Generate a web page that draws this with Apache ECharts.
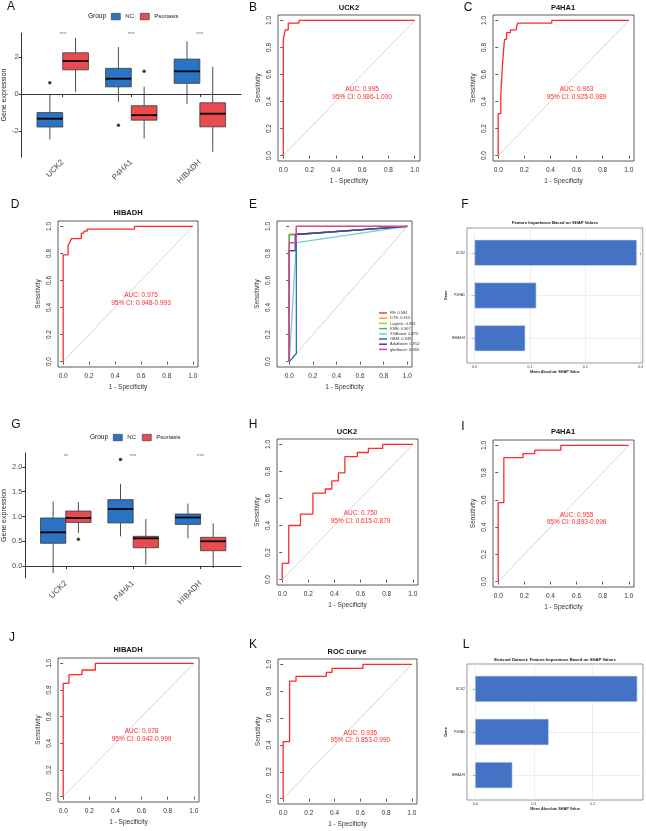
<!DOCTYPE html>
<html>
<head>
<meta charset="utf-8">
<script src="https://cdn.jsdelivr.net/npm/echarts@6/dist/echarts.min.js"></script>
<style>
  html, body { margin: 0; padding: 0; background: #fff; }
  #main { width: 646px; height: 831px; }
</style>
</head>
<body>
<div id="main"></div>
<script>
const genes = ['UCK2', 'P4HA1', 'HIBADH']

// box stats per gene: [min, Q1, median, Q3, max]
const trainNC = [[-2.45, -1.78, -1.33, -1.0, 0.0], [-0.42, 0.39, 0.83, 1.39, 2.54], [-0.54, 0.58, 1.23, 1.89, 2.85]]
const trainPso = [[0.12, 1.31, 1.78, 2.23, 3.03], [-2.39, -1.41, -1.14, -0.63, 0.40], [-3.12, -1.77, -1.06, -0.47, 1.48]]
const trainNCOut = [[0, 0.61], [1, -1.68]]   // [gene index, value]
const trainPsoOut = [[1, 1.24]]
const trainSig = ['***', '***', '***']
const trainTicks = [-2, 0, 2]

const validNC = [[-0.14, 0.46, 0.68, 0.97, 1.30], [0.60, 0.87, 1.15, 1.34, 1.66], [0.56, 0.84, 0.98, 1.05, 1.26]]
const validPso = [[0.67, 0.88, 0.97, 1.11, 1.29], [0.03, 0.37, 0.56, 0.60, 0.95], [-0.04, 0.31, 0.50, 0.58, 0.86]]
const validNCOut = [[1, 2.15]]
const validPsoOut = [[0, 0.54]]
const validSig = ['**', '***', '***']
const validTicks = [0, 0.5, 1, 1.5, 2]

// ROC curves, corner points
const rocTicks = [0, 0.2, 0.4, 0.6, 0.8, 1]
const uck2TrainFpr = [0, 0, 0.015, 0.015, 0.038, 0.038, 0.12, 0.12, 1]
const uck2TrainTpr = [0, 0.86, 0.86, 0.93, 0.93, 0.98, 0.98, 1, 1]
const p4ha1TrainFpr = [0, 0, 0.02, 0.02, 0.033, 0.033, 0.048, 0.048, 0.064, 0.064, 0.094, 0.094, 0.14, 0.14, 0.15, 0.15, 0.41, 0.41, 1]
const p4ha1TrainTpr = [0, 0.31, 0.31, 0.45, 0.45, 0.68, 0.68, 0.86, 0.86, 0.91, 0.91, 0.93, 0.93, 0.955, 0.955, 0.98, 0.98, 1, 1]
const hibadhTrainFpr = [0, 0, 0.038, 0.038, 0.05, 0.05, 0.064, 0.064, 0.14, 0.14, 0.16, 0.16, 0.185, 0.185, 0.55, 0.55, 1]
const hibadhTrainTpr = [0, 0.79, 0.79, 0.86, 0.86, 0.88, 0.88, 0.91, 0.91, 0.95, 0.95, 0.965, 0.965, 0.98, 0.98, 1, 1]
const uck2ValidFpr = [0, 0, 0.05, 0.05, 0.14, 0.14, 0.235, 0.235, 0.33, 0.33, 0.38, 0.38, 0.43, 0.43, 0.48, 0.48, 0.575, 0.575, 0.66, 0.66, 0.77, 0.77, 1]
const uck2ValidTpr = [0, 0.12, 0.12, 0.40, 0.40, 0.485, 0.485, 0.64, 0.64, 0.67, 0.67, 0.73, 0.73, 0.79, 0.79, 0.91, 0.91, 0.94, 0.94, 0.97, 0.97, 1, 1]
const p4ha1ValidFpr = [0, 0, 0.043, 0.043, 0.19, 0.19, 0.28, 0.28, 0.48, 0.48, 1]
const p4ha1ValidTpr = [0, 0.58, 0.58, 0.91, 0.91, 0.94, 0.94, 0.965, 0.965, 1, 1]
const hibadhValidFpr = [0, 0, 0.044, 0.044, 0.144, 0.144, 0.246, 0.246, 1]
const hibadhValidTpr = [0, 0.85, 0.85, 0.915, 0.915, 0.95, 0.95, 1, 1]
const comboValidFpr = [0, 0, 0.05, 0.05, 0.10, 0.10, 0.335, 0.335, 0.38, 0.38, 0.62, 0.62, 1]
const comboValidTpr = [0, 0.425, 0.425, 0.875, 0.875, 0.91, 0.91, 0.94, 0.94, 0.97, 0.97, 1, 1]

// machine learning models (panel E)
const modelNames = ['RF: 0.984', 'DTS: 0.915', 'Logistic: 0.991', 'KNN: 0.967', 'XGBoost: 0.875', 'GBM: 0.949', 'AdaBoost: 0.952', 'glmBoost: 0.984']
const modelColors = ['#e8403a', '#f2a33a', '#a6c83c', '#4cb84c', '#6fd0d6', '#2f6db5', '#5a3c9e', '#e0409a']
const modelFpr = [
  [0, 0, 0.06, 0.06, 1],
  [0, 0, 0.06, 0.06, 1],
  [0, 0, 0.05, 1],
  [0, 0, 0.05, 1],
  [0, 0.06, 1],
  [0, 0.06, 0.06, 1],
  [0, 0, 0.05, 0.05, 1],
  [0, 0, 0.06, 0.06, 1]
]
const modelTpr = [
  [0, 0.88, 0.88, 1, 1],
  [0, 0.94, 0.94, 1, 1],
  [0, 0.94, 0.94, 1],
  [0, 0.94, 0.94, 1],
  [0, 0.88, 1],
  [0, 0.06, 0.94, 1],
  [0, 0.82, 0.82, 0.94, 1],
  [0, 0.88, 0.88, 1, 1]
]

// SHAP importance
const shapTrainGenes = ['UCK2', 'P4HA1', 'HIBADH']
const shapTrain = [0.293, 0.111, 0.091]
const shapTrainTicks = [0, 0.1, 0.2, 0.3]
const shapValidGenes = ['UCK2', 'P4HA1', 'HIBADH']
const shapValid = [0.276, 0.125, 0.063]
const shapValidTicks = [0, 0.1, 0.2]

const font = '"Liberation Sans", Arial, Helvetica, sans-serif'
const ink = '#333'
const red = '#ff2a2a'
const ncColor = '#2b74c4'
const psoColor = '#e84b50'

const grids = [], xAxes = [], yAxes = [], series = [], graphics = [], legends = []

function label(text, x, y, size, weight, align) {
  graphics.push({
    type: 'text', x, y, silent: true,
    style: { text, fontFamily: font, fontSize: size, fontWeight: weight || 'normal', fill: '#111', align: align || 'center', verticalAlign: 'middle' }
  })
}

// ---------- box plots ----------
function boxSeries(name, color, stats, side, gi) {
  const half = 0.1875
  return {
    type: 'custom', name, xAxisIndex: gi, yAxisIndex: gi, silent: true,
    itemStyle: { color, borderColor: ink, borderWidth: 0.6 },
    data: stats.map((s, i) => [i + 1].concat(s)),
    encode: { x: 0, y: [1, 2, 3, 4, 5] },
    renderItem(params, api) {
      const x = api.value(0) + side * half
      const pMin = api.coord([x, api.value(1)])
      const pQ1 = api.coord([x, api.value(2)])
      const pMed = api.coord([x, api.value(3)])
      const pQ3 = api.coord([x, api.value(4)])
      const pMax = api.coord([x, api.value(5)])
      const l = api.coord([x - half, 0])[0]
      const r = api.coord([x + half, 0])[0]
      const ws = { stroke: '#3a3a3a', lineWidth: 0.9 }
      return {
        type: 'group', children: [
          { type: 'line', shape: { x1: pMin[0], y1: pMin[1], x2: pQ1[0], y2: pQ1[1] }, style: ws },
          { type: 'line', shape: { x1: pQ3[0], y1: pQ3[1], x2: pMax[0], y2: pMax[1] }, style: ws },
          { type: 'rect', shape: { x: l, y: pQ3[1], width: r - l, height: pQ1[1] - pQ3[1] }, style: { fill: color, stroke: '#3a3a3a', lineWidth: 0.8 } },
          { type: 'line', shape: { x1: l, y1: pMed[1], x2: r, y2: pMed[1] }, style: { stroke: '#000', lineWidth: 1.8 } }
        ]
      }
    }
  }
}

function boxPanel(box, nc, pso, ncOut, psoOut, sig, sigY, ticks, range, fmt, nameGap, legendTop) {
  const gi = grids.length
  grids.push({ left: box[0], top: box[1], width: box[2], height: box[3] })
  xAxes.push({
    type: 'value', gridIndex: gi, min: 0.4, max: 3.6,
    axisLine: { show: true, lineStyle: { color: ink, width: 1 } },
    axisTick: { show: true, customValues: [1, 2, 3], length: 3, lineStyle: { color: ink } },
    axisLabel: { customValues: [1, 2, 3], formatter: v => genes[v - 1], rotate: 45, fontSize: 8, color: '#4d4d4d', fontFamily: font, margin: 4 },
    splitLine: { show: false }
  })
  yAxes.push({
    type: 'value', gridIndex: gi, min: range[0], max: range[1],
    axisLine: { show: true, lineStyle: { color: ink, width: 1 } },
    axisTick: { show: true, customValues: ticks, length: 3, lineStyle: { color: ink } },
    axisLabel: { customValues: ticks, formatter: fmt, fontSize: 7.5, color: '#4d4d4d', fontFamily: font, margin: 3 },
    splitLine: { show: false },
    name: 'Gene expression', nameLocation: 'middle', nameGap,
    nameTextStyle: { fontSize: 7, color: '#222', fontFamily: font }
  })
  series.push(boxSeries('NC', ncColor, nc, -1, gi))
  series.push(boxSeries('Psoriasis', psoColor, pso, 1, gi))
  series.push({
    type: 'scatter', xAxisIndex: gi, yAxisIndex: gi, silent: true, symbolSize: 3.5,
    itemStyle: { color: '#111' },
    data: ncOut.map(o => [o[0] + 1 - 0.1875, o[1]]).concat(psoOut.map(o => [o[0] + 1 + 0.1875, o[1]]))
  })
  series.push({
    type: 'scatter', xAxisIndex: gi, yAxisIndex: gi, silent: true, symbolSize: 1,
    itemStyle: { color: 'rgba(0,0,0,0)' },
    label: { show: true, position: 'inside', formatter: p => p.name, fontSize: 6, color: '#555', fontFamily: font },
    data: sig.map((s, i) => ({ name: s, value: [i + 1, sigY] }))
  })
  legends.push({
    data: ['NC', 'Psoriasis'], left: box[0] + 91, top: legendTop, padding: 0,
    icon: 'rect', itemWidth: 9, itemHeight: 6.5, itemGap: 6, selectedMode: false,
    itemStyle: { borderColor: ink, borderWidth: 0.6 },
    textStyle: { fontSize: 6, color: '#222', fontFamily: font }
  })
  label('Group', box[0] + 68, legendTop + 3.5, 6.5, 'normal', 'left')
}

// ---------- ROC plots ----------
function rocPanel(box, xMin, curves, auc) {
  const gi = grids.length
  grids.push({ left: box[0], top: box[1], width: box[2], height: box[3], show: true, borderColor: ink, borderWidth: 0.8 })
  const lab = { customValues: rocTicks, formatter: v => v.toFixed(1), fontSize: 6.5, color: ink, fontFamily: font }
  const tick = { show: true, customValues: rocTicks, length: 3, lineStyle: { color: ink, width: 0.8 } }
  const nameStyle = { fontSize: 6.5, color: ink, fontFamily: font }
  xAxes.push({
    type: 'value', gridIndex: gi, min: xMin, max: 1.04,
    axisLine: { show: false }, axisTick: tick, axisLabel: Object.assign({ margin: 6 }, lab),
    splitLine: { show: false },
    name: '1 - Specificity', nameLocation: 'middle', nameGap: 17, nameTextStyle: nameStyle
  })
  yAxes.push({
    type: 'value', gridIndex: gi, min: -0.04, max: 1.04,
    axisLine: { show: false }, axisTick: tick, axisLabel: Object.assign({ margin: 5, rotate: 90 }, lab),
    splitLine: { show: false },
    name: 'Sensitivity', nameLocation: 'middle', nameGap: 16, nameTextStyle: nameStyle
  })
  series.push({
    type: 'line', xAxisIndex: gi, yAxisIndex: gi, silent: true, symbol: 'none',
    data: [[0, 0], [1, 1]], lineStyle: { color: '#c8c8c8', width: 0.8 }
  })
  curves.forEach(c => {
    const s = {
      type: 'line', name: c.name, xAxisIndex: gi, yAxisIndex: gi, silent: true, symbol: 'none',
      data: c.fpr.map((f, i) => [f, c.tpr[i]]),
      itemStyle: { color: c.color },
      lineStyle: { color: c.color, width: 1.3 }
    }
    if (auc) {
      s.markPoint = {
        symbol: 'circle', symbolSize: 1, silent: true,
        itemStyle: { color: 'rgba(0,0,0,0)' },
        label: { show: true, position: 'inside', formatter: auc.join('\n'), fontSize: 6.5, lineHeight: 7.5, color: red, fontFamily: font },
        data: [{ coord: [0.6, 0.46] }]
      }
    }
    series.push(s)
  })
}

// ---------- SHAP bar plots ----------
function shapPanel(box, names, values, ticks, xMax) {
  const gi = grids.length
  grids.push({ left: box[0], top: box[1], width: box[2], height: box[3], show: true, borderColor: '#555', borderWidth: 0.6 })
  const grid = { show: true, lineStyle: { color: '#e3e3e3', width: 0.6 } }
  xAxes.push({
    type: 'value', gridIndex: gi, min: -0.014, max: xMax,
    axisLine: { show: false },
    axisTick: { show: true, customValues: ticks, length: 2, lineStyle: { color: '#555', width: 0.5 } },
    axisLabel: { customValues: ticks, formatter: v => v.toFixed(1), fontSize: 3.5, color: '#333', fontFamily: font, margin: 2 },
    splitLine: grid,
    name: 'Mean Absolute SHAP Value', nameLocation: 'middle', nameGap: 6,
    nameTextStyle: { fontSize: 3.8, fontWeight: 'bold', color: '#222', fontFamily: font }
  })
  yAxes.push({
    type: 'value', gridIndex: gi, min: -0.58, max: 2.58, inverse: true,
    axisLine: { show: false },
    axisTick: { show: true, customValues: [0, 1, 2], length: 2, lineStyle: { color: '#555', width: 0.5 } },
    axisLabel: { customValues: [0, 1, 2], formatter: v => names[v], fontSize: 3.5, color: '#333', fontFamily: font, margin: 2 },
    splitLine: grid,
    name: 'Gene', nameLocation: 'middle', nameGap: 14,
    nameTextStyle: { fontSize: 3.8, fontWeight: 'bold', color: '#222', fontFamily: font }
  })
  series.push({
    type: 'custom', xAxisIndex: gi, yAxisIndex: gi, silent: true,
    data: values.map((v, i) => [i, v]),
    encode: { y: 0, x: 1 },
    renderItem(params, api) {
      const y = api.value(0)
      const p0 = api.coord([0, y])
      const p1 = api.coord([api.value(1), y])
      const h = api.size([0, 0.6])[1]
      return {
        type: 'rect',
        shape: { x: p0[0], y: p0[1] - h / 2, width: p1[0] - p0[0], height: h },
        style: { fill: '#4472c4', stroke: '#dfe6f2', lineWidth: 0.6 }
      }
    }
  })
}

// A
boxPanel([20, 33, 221, 124], trainNC, trainPso, trainNCOut, trainPsoOut, trainSig, 3.22, trainTicks, [-3.4, 3.3], v => String(v), 12, 13)
// B, C, D
rocPanel([278, 15, 142, 146], -0.04, [{ fpr: uck2TrainFpr, tpr: uck2TrainTpr, color: red }], ['AUC: 0.995', '95% CI: 0.986-1.000'])
rocPanel([493, 15, 141, 146], -0.04, [{ fpr: p4ha1TrainFpr, tpr: p4ha1TrainTpr, color: red }], ['AUC: 0.963', '95% CI: 0.925-0.989'])
rocPanel([58, 221, 140, 146], -0.04, [{ fpr: hibadhTrainFpr, tpr: hibadhTrainTpr, color: red }], ['AUC: 0.975', '95% CI: 0.948-0.993'])
// E
rocPanel([277, 221, 135, 146], -0.104, modelNames.map((n, i) => ({ name: n, fpr: modelFpr[i], tpr: modelTpr[i], color: modelColors[i] })), null)
legends.push({
  data: modelNames, left: 379, top: 311, orient: 'vertical', padding: 0,
  icon: 'rect', itemWidth: 8, itemHeight: 1.5, itemGap: 1.2, selectedMode: false,
  textStyle: { fontSize: 4, color: '#333', fontFamily: font, padding: [0, 0, 0, -2] }
})
// F
shapPanel([467, 228, 176, 135], shapTrainGenes, shapTrain, shapTrainTicks, 0.304)
// G
boxPanel([22, 453, 219, 125], validNC, validPso, validNCOut, validPsoOut, validSig, 2.22, validTicks, [-0.24, 2.28], v => v.toFixed(1), 14, 434)
// H, I, J, K
rocPanel([277, 439, 141, 146], -0.04, [{ fpr: uck2ValidFpr, tpr: uck2ValidTpr, color: red }], ['AUC: 0.750', '95% CI: 0.615-0.879'])
rocPanel([493, 440, 141, 147], -0.04, [{ fpr: p4ha1ValidFpr, tpr: p4ha1ValidTpr, color: red }], ['AUC: 0.955', '95% CI: 0.893-0.996'])
rocPanel([58, 658, 141, 144], -0.04, [{ fpr: hibadhValidFpr, tpr: hibadhValidTpr, color: red }], ['AUC: 0.978', '95% CI: 0.942-0.999'])
rocPanel([278, 659, 139, 145], -0.04, [{ fpr: comboValidFpr, tpr: comboValidTpr, color: red }], ['AUC: 0.935', '95% CI: 0.853-0.990'])
// L
shapPanel([467, 664, 176, 136], shapValidGenes, shapValid, shapValidTicks, 0.286)

// panel letters
const letters = [['A', 11, 7], ['B', 253, 8], ['C', 468, 8], ['D', 15, 205], ['E', 253, 205], ['F', 465, 205],
  ['G', 16, 425], ['H', 253, 425], ['I', 463, 427], ['J', 12, 638], ['K', 253, 645], ['L', 466, 645]]
letters.forEach(l => label(l[0], l[1], l[2], 12, 'normal'))

// panel titles
label('UCK2', 349, 8, 7.5, 'bold')
label('P4HA1', 563, 8, 7.5, 'bold')
label('HIBADH', 128, 213, 7.5, 'bold')
label('Feature Importance Based on SHAP Values', 555, 223, 4.2, 'bold')
label('UCK2', 347, 432, 7.5, 'bold')
label('P4HA1', 563, 432, 7.5, 'bold')
label('HIBADH', 128, 650, 7.5, 'bold')
label('ROC curve', 347, 652, 7.5, 'bold')
label('External Dataset: Feature Importance Based on SHAP Values', 555, 660, 4.2, 'bold')

const chart = echarts.init(document.getElementById('main'), null, { renderer: 'canvas' })
chart.setOption({
  animation: false,
  backgroundColor: '#fff',
  grid: grids,
  xAxis: xAxes,
  yAxis: yAxes,
  legend: legends,
  series,
  graphic: graphics
})
window.addEventListener('resize', () => chart.resize())
</script>
</body>
</html>
